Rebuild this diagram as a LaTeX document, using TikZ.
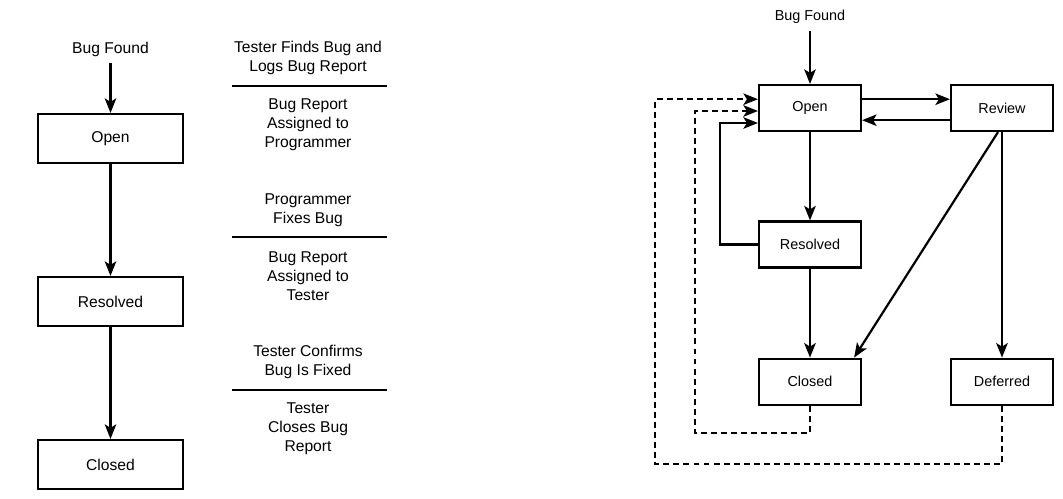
\documentclass[tikz,border=0pt]{standalone}
\usepackage{fontspec}
\setmainfont{Liberation Sans}
\usetikzlibrary{arrows.meta}

\begin{document}
\begin{tikzpicture}[x=0.02cm, y=-0.02cm, line width=1.25pt,
        >={Stealth[length=0.29cm, width=0.23cm, inset=0.07cm]},
        bigbox/.style={draw, rectangle, minimum width=2.9cm, minimum height=0.98cm, font=\fontsize{8.9}{10.8}\selectfont},
        smallbox/.style={draw, rectangle, minimum width=2.04cm, minimum height=0.92cm, font=\fontsize{8.2}{9.8}\selectfont},
        bigtext/.style={align=center, font=\fontsize{8.9}{10.8}\selectfont},
        smalltext/.style={align=center, font=\fontsize{8.2}{9.8}\selectfont},
        loopback/.style={->, dash pattern=on 3.4pt off 2.3pt}]
        \useasboundingbox (0,0) rectangle (1063,498);

        % Simple life cycle
        \node[bigtext] (found) at (110.5,49) {Bug Found};
        \node[bigbox] (open) at (110.5,138.5) {Open};
        \node[bigbox] (resolved) at (110.5,301.5) {Resolved};
        \node[bigbox] (closed) at (110.5,464.5) {Closed};

        \draw[->] (found) -- (open);
        \draw[->] (open) -- (resolved);
        \draw[->] (resolved) -- (closed);

        % Who does what
        \node[bigtext] (logs) at (308,58) {Tester Finds Bug and\\Logs Bug Report};
        \node[bigtext] (toprog) at (308,125) {Bug Report\\Assigned to\\Programmer};
        \node[bigtext] (fixes) at (308,210) {Programmer\\Fixes Bug};
        \node[bigtext] (totester) at (308,276) {Bug Report\\Assigned to\\Tester};
        \node[bigtext] (confirms) at (308,362) {Tester Confirms\\Bug Is Fixed};
        \node[bigtext] (closes) at (308,429) {Tester\\Closes Bug\\Report};

        \draw (232,86) -- (387,86);
        \draw (232,237) -- (387,237);
        \draw (232,390) -- (387,390);

        % Full life cycle
        \node[smalltext] (found2) at (810,17) {Bug Found};
        \node[smallbox] (open2) at (810,108) {Open};
        \node[smallbox] (review) at (1002,108) {Review};
        \node[smallbox] (resolved2) at (810,244.5) {Resolved};
        \node[smallbox] (closed2) at (810,381.7) {Closed};
        \node[smallbox] (deferred) at (1002,381.7) {Deferred};

        \draw[->] (found2) -- (open2);
        \draw[->] ([yshift=0.176cm]open2.east) -- ([yshift=0.176cm]review.west);
        \draw[->] ([yshift=-0.244cm]review.west) -- ([yshift=-0.244cm]open2.east);
        \draw[->] (open2) -- (resolved2);
        \draw[->] (resolved2.west) -- ++(-38,0) |- ([yshift=-0.3cm]open2.west);
        \draw[->] (resolved2) -- (closed2);
        \draw[->] ([xshift=-0.08cm]review.south) -- ([xshift=-0.16cm]closed2.north east);
        \draw[->] (review) -- (deferred);

        % Reopened
        \draw[loopback] (closed2.south) -- ++(0,27) -- ++(-115,0) |- ([yshift=-0.06cm]open2.west);
        \draw[loopback] (deferred.south) -- ++(0,58) -- ++(-347,0) |- ([yshift=0.176cm]open2.west);
    \end{tikzpicture}
\end{document}
